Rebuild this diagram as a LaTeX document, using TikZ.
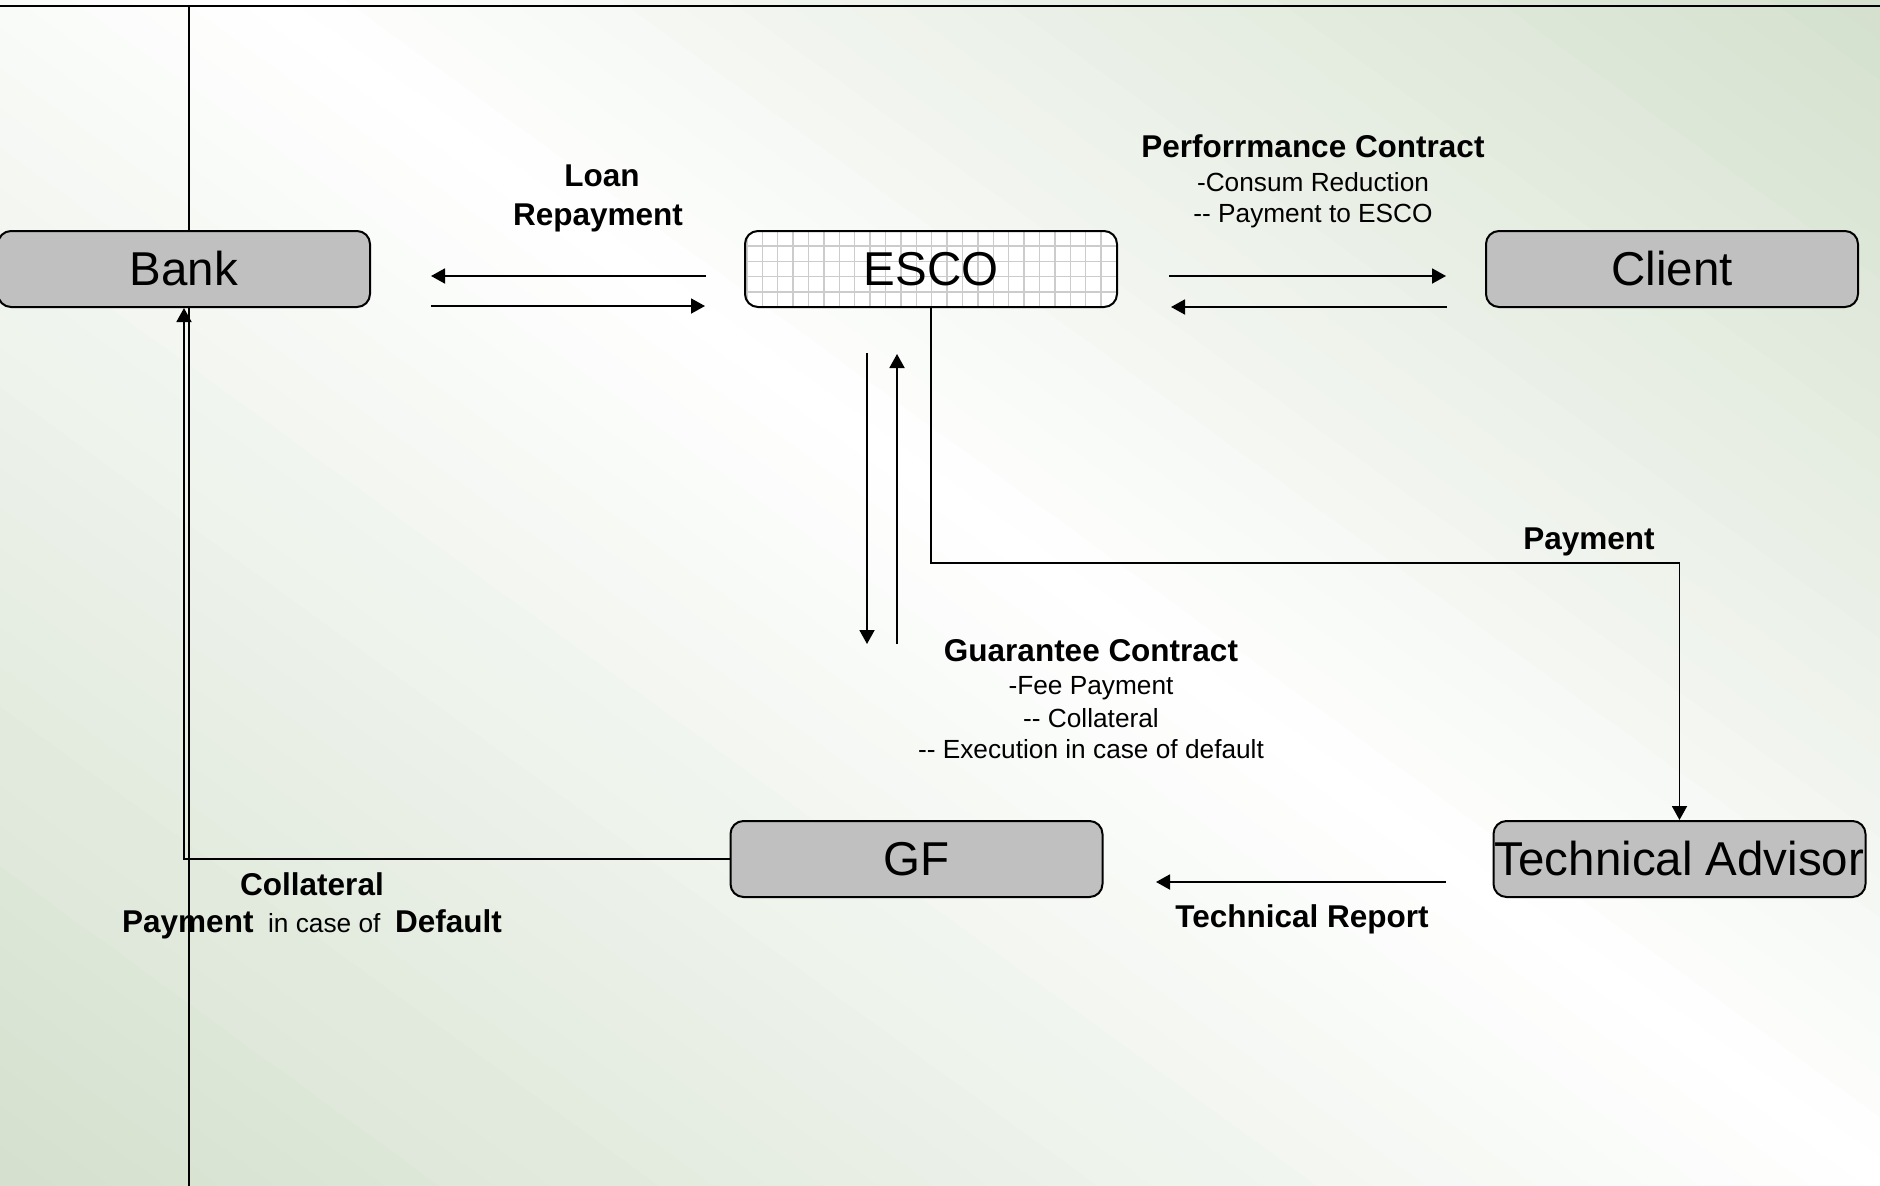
\documentclass[tikz,border=0pt]{standalone}
\usepackage{fontspec}
\newfontfamily\arial{Liberation Sans}
\usetikzlibrary{arrows.meta}
\definecolor{bggreen}{RGB}{212,224,205}
\definecolor{boxgray}{RGB}{192,192,192}
\definecolor{gridgray}{RGB}{204,204,204}
\newcommand\lblbold{\bfseries\fontsize{12.6}{15}\selectfont}
\tikzset{
  entity/.style={draw=black, line width=0.8pt, fill=boxgray, rounded corners=5.2pt,
    minimum width=148.8pt, minimum height=30.4pt, inner sep=0pt,
    font=\arial\fontsize{19}{22}\selectfont},
  gridc/.style={draw=gridgray, line width=0.5pt},
  arr/.style={line width=0.75pt, -{Triangle[length=5.6pt,width=6pt]}},
  frameline/.style={line width=0.8pt},
  blabel/.style={anchor=base, inner sep=0pt, font=\arial\lblbold},
  rlabel/.style={anchor=base, inner sep=0pt, font=\arial\fontsize{10.5}{13}\selectfont},
}
\begin{document}
\begin{tikzpicture}[x=0.4pt,y=-0.4pt]
\useasboundingbox (0,0) rectangle (1880,1186);
% background: white band from near the top-left corner to the bottom-right corner,
% green towards the top-right and bottom-left corners
\begin{scope}
  \clip (0,0) rectangle (1880,1186);
  \foreach \i in {0,...,63}{
    \pgfmathsetmacro\ca{-1186+\i*39.9}
    \pgfmathsetmacro\cb{\ca+41.9}
    \pgfmathsetmacro\cm{\ca+19.95}
    \pgfmathsetmacro\p{min(100,ifthenelse(\cm<0,-\cm/11.86,\cm/13.68))}
    \fill[bggreen!\p!white] (-10,{\ca-189.2}) -- (1890,{\ca+1193.3}) -- (1890,{\cb+1193.3}) -- (-10,{\cb-189.2}) -- cycle;
  }
\end{scope}

% frame lines
\coordinate (tl) at (0,6);
\coordinate (tr) at (1880,6);
\coordinate (vt) at (189,6);
\coordinate (vb) at (189,1186);
\draw[frameline] (tl) -- (tr);
\draw[frameline] (vt) -- (vb);

% entities
\node[entity] (bank) at (184,269) {Bank};
\node[entity, fill=white, path picture={
    \foreach \k in {-1,...,24}
      \draw[gridc] ([xshift={6.92pt+\k*6.16pt}]path picture bounding box.north west)
                -- ([xshift={6.92pt+\k*6.16pt}]path picture bounding box.south west);
    \foreach \k in {-1,...,5}
      \draw[gridc] ([yshift={-6pt-\k*6.14pt}]path picture bounding box.north west)
                -- ([yshift={-6pt-\k*6.14pt}]path picture bounding box.north east);
  }] (esco) at (931,269) {ESCO};
\node[entity] (client) at (1672,269) {Client};
\node[entity] (gf) at (916.5,859) {GF};
\node[entity] (ta) at (1679.5,859) {Technical Advisor};

% connectors
\draw[arr] ([shift={(-38,7)}]esco.west) -- ([shift={(60,7)}]bank.east);
\draw[arr] ([shift={(60,37)}]bank.east) -- ([shift={(-39,37)}]esco.west);
\draw[arr] ([shift={(51,7)}]esco.east) -- ([shift={(-39,7)}]client.west);
\draw[arr] ([shift={(-38,38)}]client.west) -- ([shift={(53,38)}]esco.east);
\draw[arr] ([shift={(-64,45)}]esco.south) -- ([shift={(-49.5,-176)}]gf.north);
\draw[arr] ([shift={(-19.5,-176)}]gf.north) -- ([shift={(-34,46)}]esco.south);
\coordinate (payturn) at (1679.5,563);
\draw[arr] (esco.south) |- (payturn) -- (ta.north);
\draw[arr] ([shift={(-46.5,23)}]ta.west) -- ([shift={(52.5,23)}]gf.east);
\draw[arr] (gf.west) -| (bank.south);

% labels
\node[blabel] (loan) at (602,186) {Loan};
\node[blabel] (repay) at (598,225) {Repayment};
\node[blabel] (perf) at (1313,157) {Perforrmance Contract};
\node[rlabel] (perf1) at (1313,191) {-Consum Reduction};
\node[rlabel] (perf2) at (1313,222) {-- Payment to ESCO};
\node[blabel] (paylab) at (1589,549) {Payment};
\node[blabel] (guar) at (1091,661) {Guarantee Contract};
\node[rlabel] (guar1) at (1091,694) {-Fee Payment};
\node[rlabel] (guar2) at (1091,727) {-- Collateral};
\node[rlabel] (guar3) at (1091,758) {-- Execution in case of default};
\node[blabel] (coll) at (312,895) {Collateral};
\node[rlabel] (coll2) at (312,932) {{\lblbold Payment}\ \ in case of\ \ {\lblbold Default}};
\node[blabel] (techrep) at (1302,927) {Technical Report};
\end{tikzpicture}
\end{document}
